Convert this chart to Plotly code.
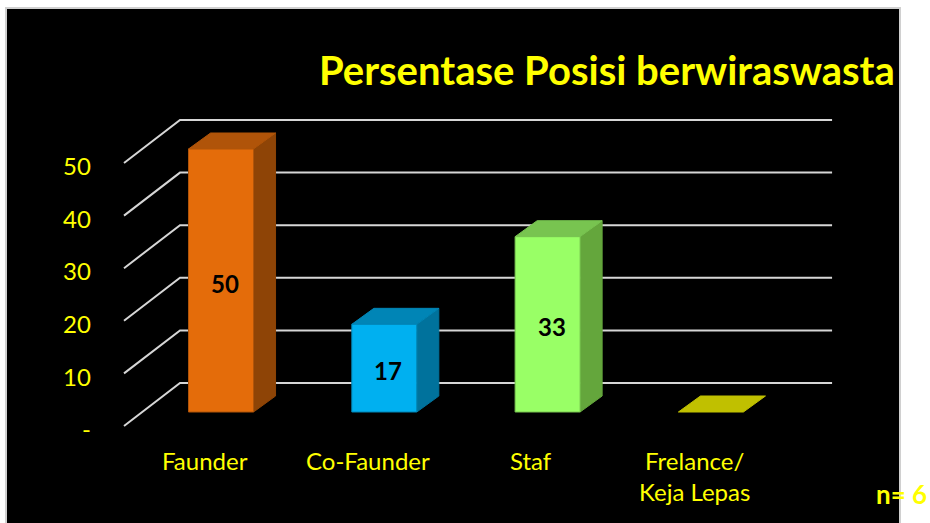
import plotly.graph_objects as go

# ---- data ----
categories = ["Faunder", "Co-Faunder", "Staf", "Frelance/<br>Keja Lepas"]
values = [50.0, 16.67, 33.33, 0.0]
value_labels = ["50", "17", "33", ""]
tick_values = [0, 10, 20, 30, 40, 50]
tick_labels = ["-", "10", "20", "30", "40", "50"]
title_text = "Persentase Posisi berwiraswasta"
note_text = "n= 6"

# ---- styles ----
front_colors = ["#E46C0A", "#00B0F0", "#99FF66", "#FFFF00"]
top_colors = ["#B05409", "#0085B6", "#78C450", "#C0C000"]
side_colors = ["#8E4406", "#00729C", "#64A63C", "#A0A000"]
YELLOW = "#FFFF00"
FONT = "Lato"

W, H = 930, 523
CAT_PX = 163.3      # pixels per category step
VAL_PX = 5.26       # pixels per value unit
X0_PX, Y0_PX = 221, 412   # pixel position of category 0, value 0

HALF_W = 0.199      # bar half width (category units)
DX, DY = 0.135, 3.04  # bar depth offset
GF_X, GB_X, GR_X = -0.594, -0.251, 3.742  # gridline front/back/right x
GF_Y, GB_Y = -2.66, 5.51                    # gridline front/back value offset

fig = go.Figure()

# gridlines (3D wall)
for v in tick_values:
    fig.add_trace(go.Scatter(
        x=[GF_X, GB_X, GR_X], y=[v + GF_Y, v + GB_Y, v + GB_Y],
        mode="lines", line=dict(color="#D6D6D6", width=2),
        hoverinfo="skip", showlegend=False))

def poly(xs, ys, color, edge):
    fig.add_trace(go.Scatter(
        x=xs + [xs[0]], y=ys + [ys[0]], mode="lines", fill="toself",
        fillcolor=color, line=dict(color=edge, width=1),
        hoverinfo="skip", showlegend=False))

for i, v in enumerate(values):
    xl, xr = i - HALF_W, i + HALF_W
    # side face
    if v > 0:
        poly([xr, xr + DX, xr + DX, xr], [0, DY, v + DY, v], side_colors[i], side_colors[i])
    # top face
    poly([xl, xr, xr + DX, xl + DX], [v, v, v + DY, v + DY], top_colors[i], top_colors[i])
    # front face
    if v > 0:
        poly([xl, xr, xr, xl], [0, 0, v, v], front_colors[i], top_colors[i])

annotations = []
# value labels
for i, v in enumerate(values):
    if value_labels[i]:
        annotations.append(dict(
            x=i + 0.025, y=v / 2 - 0.5, text=value_labels[i], showarrow=False,
            xanchor="center", yanchor="middle",
            font=dict(family=FONT, size=24, color="black", weight="bold")))
# y tick labels
for v, t in zip(tick_values, tick_labels):
    annotations.append(dict(
        x=-0.784, y=v + GF_Y - 0.5, text=t, showarrow=False,
        xanchor="right", yanchor="middle",
        font=dict(family=FONT, size=24, color=YELLOW)))
# category labels
for i, c in enumerate(categories):
    annotations.append(dict(
        x=i - 0.1, y=-6.0, text=c, showarrow=False,
        xanchor="center", yanchor="top",
        font=dict(family=FONT, size=24, color=YELLOW)))
# title
annotations.append(dict(
    xref="paper", yref="paper", x=607 / W, y=1 - 70 / H, text=title_text,
    showarrow=False, xanchor="center", yanchor="middle",
    font=dict(family=FONT, size=40, color=YELLOW, weight="bold")))
# n note
annotations.append(dict(
    xref="paper", yref="paper", x=929 / W, y=1 - 494 / H, text=note_text,
    showarrow=False, xanchor="right", yanchor="middle",
    font=dict(family=FONT, size=26, color=YELLOW, weight="bold")))

x_range = [-X0_PX / CAT_PX, (W - X0_PX) / CAT_PX]
y_range = [-(H - Y0_PX) / VAL_PX, Y0_PX / VAL_PX]

fig.update_layout(
    width=W, height=H,
    margin=dict(l=0, r=0, t=0, b=0),
    paper_bgcolor="white", plot_bgcolor="rgba(0,0,0,0)",
    xaxis=dict(range=x_range, visible=False, fixedrange=True),
    yaxis=dict(range=y_range, visible=False, fixedrange=True),
    shapes=[dict(type="rect", xref="paper", yref="paper",
                 x0=6 / W, x1=900 / W, y0=-0.01, y1=1 - 8 / H,
                 fillcolor="black", line=dict(color="#D0D0D0", width=2),
                 layer="below")],
    annotations=annotations,
)

fig.write_html("out.html", config={"displayModeBar": False},
               post_script="document.body.style.margin='0';")
